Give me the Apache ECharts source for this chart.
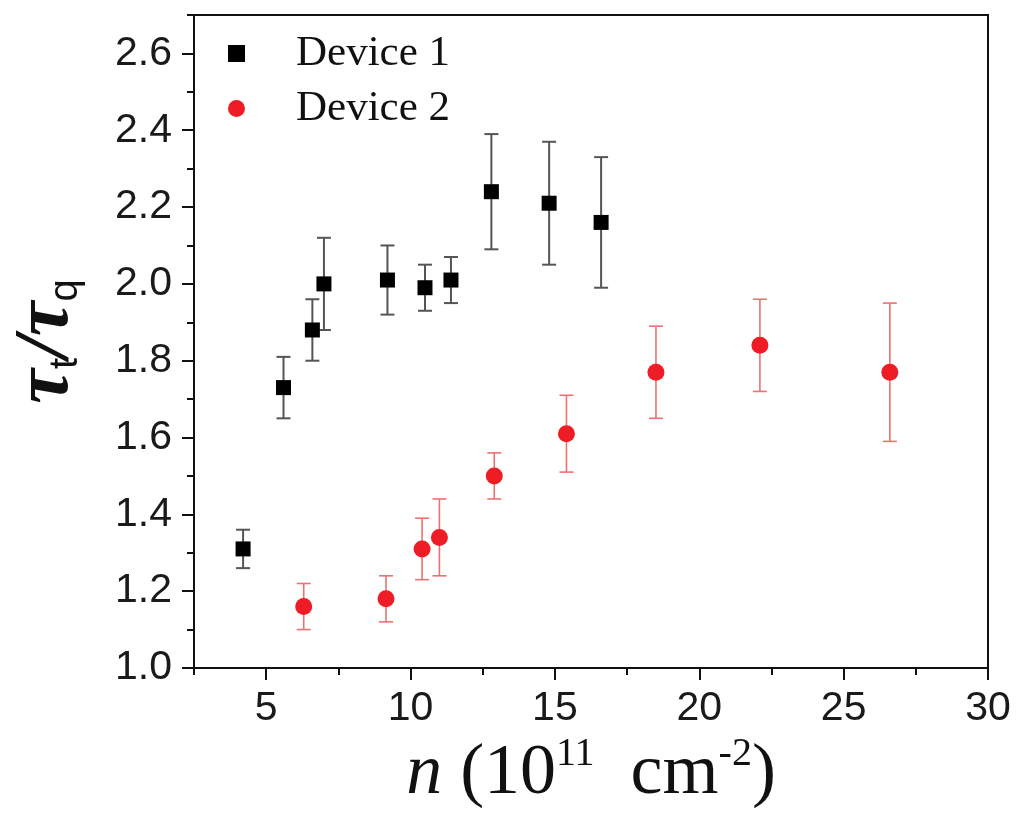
<!DOCTYPE html>
<html>
<head>
<meta charset="utf-8">
<script src="https://cdn.jsdelivr.net/npm/echarts@6/dist/echarts.min.js"></script>
<style>
html,body{margin:0;padding:0;background:#fff;}
#chart{width:1021px;height:815px;}
</style>
</head>
<body>
<div id="chart"></div>
<script>
// ---- data ----
const device1X = [4.2, 5.6, 6.6, 7.0, 9.2, 10.5, 11.4, 12.8, 14.8, 16.6];
const device1Y = [1.31, 1.73, 1.88, 2.00, 2.01, 1.99, 2.01, 2.24, 2.21, 2.16];
const device1Err = [0.05, 0.08, 0.08, 0.12, 0.09, 0.06, 0.06, 0.15, 0.16, 0.17];

const device2X = [6.3, 9.15, 10.4, 11.0, 12.9, 15.4, 18.5, 22.1, 26.6];
const device2Y = [1.16, 1.18, 1.31, 1.34, 1.50, 1.61, 1.77, 1.84, 1.77];
const device2Err = [0.06, 0.06, 0.08, 0.10, 0.06, 0.10, 0.12, 0.12, 0.18];

const xMajorTicks = [5, 10, 15, 20, 25, 30];
const xMinorTicks = [2.5, 7.5, 12.5, 17.5, 22.5, 27.5];
const yMajorTicks = [1.0, 1.2, 1.4, 1.6, 1.8, 2.0, 2.2, 2.4, 2.6];
const yMinorTicks = [1.1, 1.3, 1.5, 1.7, 1.9, 2.1, 2.3, 2.5, 2.7];

const seriesNames = ['Device 1', 'Device 2'];

// ---- build ----
const d1 = device1X.map((x, i) => [x, device1Y[i], device1Err[i]]);
const d2 = device2X.map((x, i) => [x, device2Y[i], device2Err[i]]);

function errRender(color, width) {
  return function (params, api) {
    const x = api.value(0), y = api.value(1), e = api.value(2);
    const top = api.coord([x, y + e]);
    const bot = api.coord([x, y - e]);
    const hw = 7;
    const st = { stroke: color, lineWidth: width };
    return {
      type: 'group',
      children: [
        { type: 'line', shape: { x1: top[0], y1: top[1], x2: bot[0], y2: bot[1] }, style: st },
        { type: 'line', shape: { x1: top[0] - hw, y1: top[1], x2: top[0] + hw, y2: top[1] }, style: st },
        { type: 'line', shape: { x1: bot[0] - hw, y1: bot[1], x2: bot[0] + hw, y2: bot[1] }, style: st }
      ]
    };
  };
}

const tickFont = { fontFamily: 'Liberation Sans', fontSize: 41, color: '#1a1a1a' };

const chart = echarts.init(document.getElementById('chart'), null, { renderer: 'canvas' });
chart.setOption({
  animation: false,
  backgroundColor: '#fff',
  grid: {
    left: 192, right: 33, top: 15, bottom: 147,
    show: true, borderColor: '#111', borderWidth: 2, backgroundColor: 'transparent'
  },
  legend: {
    orient: 'vertical',
    left: 223, top: 27,
    data: [
      { name: seriesNames[0], icon: 'rect' },
      { name: seriesNames[1], icon: 'circle' }
    ],
    itemWidth: 17, itemHeight: 17, itemGap: 12,
    textStyle: { fontFamily: 'Liberation Serif', fontSize: 43, lineHeight: 43, color: '#111', padding: [0, 0, 0, 46] }
  },
  xAxis: [
    {
      type: 'value', min: 2.5, max: 30, position: 'bottom',
      axisLine: { show: true, onZero: false, lineStyle: { color: '#111', width: 2 } },
      axisTick: { show: true, customValues: xMajorTicks, length: 12, lineStyle: { color: '#111', width: 2 } },
      axisLabel: { customValues: xMajorTicks, margin: 20, ...tickFont },
      splitLine: { show: false },
      name: '{i|n}{r|\u00a0(10}{sup|11}{r|\u00a0\u00a0cm}{sup|-2}{r|)}',
      nameLocation: 'middle', nameGap: 70,
      nameTextStyle: {
        rich: {
          i: { fontFamily: 'Liberation Serif', fontStyle: 'italic', fontSize: 72, lineHeight: 72, color: '#111', verticalAlign: 'bottom' },
          r: { fontFamily: 'Liberation Serif', fontSize: 72, lineHeight: 72, color: '#111', verticalAlign: 'bottom' },
          sup: { fontFamily: 'Liberation Serif', fontSize: 40, lineHeight: 40, color: '#111', verticalAlign: 'bottom', padding: [0, 0, 36, 0] }
        }
      }
    },
    {
      type: 'value', min: 2.5, max: 30, position: 'bottom',
      axisLine: { show: false },
      axisTick: { show: true, customValues: xMinorTicks, length: 7, lineStyle: { color: '#111', width: 2 } },
      axisLabel: { show: false },
      splitLine: { show: false }
    }
  ],
  yAxis: [
    {
      type: 'value', min: 1.0, max: 2.7, position: 'left',
      axisLine: { show: true, onZero: false, lineStyle: { color: '#111', width: 2 } },
      axisTick: { show: true, customValues: yMajorTicks, length: 12, lineStyle: { color: '#111', width: 2 } },
      axisLabel: { customValues: yMajorTicks, margin: 22, formatter: v => Number(v).toFixed(1), ...tickFont },
      splitLine: { show: false },
      name: '{t|τ}{s|t}{t|/τ}{s|q}',
      nameLocation: 'middle', nameGap: 108, nameRotate: 90,
      nameTextStyle: {
        rich: {
          t: { fontFamily: 'Liberation Serif', fontStyle: 'italic', fontWeight: 'bold', fontSize: 78, lineHeight: 78, color: '#111', verticalAlign: 'bottom' },
          s: { fontFamily: 'Liberation Sans', fontSize: 40, lineHeight: 40, color: '#111', verticalAlign: 'bottom', padding: [0, 0, 0, 0] }
        }
      }
    },
    {
      type: 'value', min: 1.0, max: 2.7, position: 'left',
      axisLine: { show: false },
      axisTick: { show: true, customValues: yMinorTicks, length: 7, lineStyle: { color: '#111', width: 2 } },
      axisLabel: { show: false },
      splitLine: { show: false }
    }
  ],
  series: [
    {
      name: 'err1', type: 'custom', xAxisIndex: 0, yAxisIndex: 0,
      renderItem: errRender('#555', 2), data: d1, z: 2, silent: true
    },
    {
      name: 'err2', type: 'custom', xAxisIndex: 0, yAxisIndex: 0,
      renderItem: errRender('#f07070', 1.6), data: d2, z: 2, silent: true
    },
    {
      name: seriesNames[0], type: 'scatter', symbol: 'rect', symbolSize: 15,
      itemStyle: { color: '#000', opacity: 1 }, data: d1.map(p => [p[0], p[1]]), z: 3
    },
    {
      name: seriesNames[1], type: 'scatter', symbol: 'circle', symbolSize: 17,
      itemStyle: { color: '#ee1d25', opacity: 1 }, data: d2.map(p => [p[0], p[1]]), z: 3
    }
  ]
});
</script>
</body>
</html>
